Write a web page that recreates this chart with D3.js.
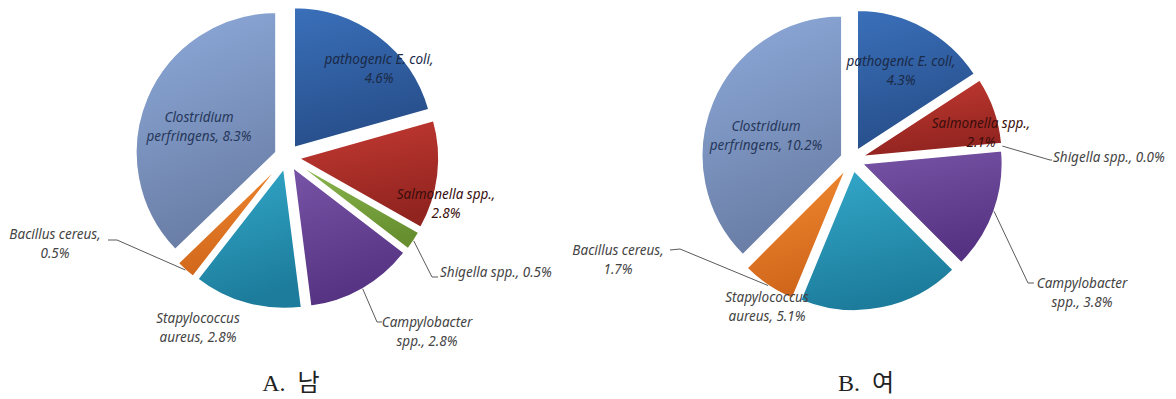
<!DOCTYPE html>
<html><head><meta charset="utf-8">
<script src="https://cdn.jsdelivr.net/npm/d3@7"></script>
<style>body{margin:0;background:#fff} svg{display:block}</style>
</head><body><svg id="chart" width="1176" height="399"></svg>
<script>
// ---- data ----
const categories = ["pathogenic E. coli", "Salmonella spp.", "Shigella spp.", "Campylobacter spp.", "Stapylococcus aureus", "Bacillus cereus", "Clostridium perfringens"];
const maleValues = [4.6, 2.8, 0.5, 2.8, 2.8, 0.5, 8.3];
const femaleValues = [4.3, 2.1, 0.0, 3.8, 5.1, 1.7, 10.2];
const panelTitles = ["A.  남", "B.  여"];
// words on the first label line (0 = single line)
const firstLineWords = [3, 2, 0, 1, 1, 2, 1];

// ---- styles ----
const colorsLight = ["#3a70ba", "#c43a32", "#8cb84e", "#7854a6", "#33a9ca", "#f48c32", "#8eabdb"];
const colorsDark  = ["#274e8a", "#922420", "#678f30", "#553282", "#1d7c9c", "#d0661a", "#6a7ea6"];
const textColors  = ["#1b2a47", "#3a0e0c", "#444", "#444", "#444", "#444", "#26375a"];

// label layout relative to pie center
const layouts = [
  { cx: 287, cy: 157, r: 140, explode: 12, values: maleValues, title: panelTitles[0], titleX: 291,
    labels: [
      {x: 92, y: -98, a: "middle"},
      {x: 159, y: 37, a: "middle"},
      {x: 153, y: 115, a: "start", elbow: [145, 120], end: [151, 120]},
      {x: 140, y: 165, a: "middle", elbow: [90, 165], end: [95, 165]},
      {x: -89, y: 161, a: "middle"},
      {x: -232, y: 77, a: "middle", elbow: [-170, 83], end: [-179, 83]},
      {x: -88, y: -40, a: "middle"}
    ]},
  { cx: 852, cy: 160, r: 140, explode: 11, values: femaleValues, title: panelTitles[1], titleX: 866,
    labels: [
      {x: 49, y: -99, a: "middle"},
      {x: 129, y: -37, a: "middle"},
      {x: 201, y: -3, a: "start", elbow: [198, 0], end: [200, 0]},
      {x: 230, y: 123, a: "middle", elbow: [176, 123], end: [182, 123]},
      {x: -85, y: 137, a: "middle"},
      {x: -234, y: 90, a: "middle", elbow: [-172, 89], end: [-182, 90]},
      {x: -86, y: -34, a: "middle"}
    ]}
];

const svg = d3.select("#chart");
const defs = svg.append("defs");
categories.forEach((c, i) => {
  const g = defs.append("linearGradient").attr("id", "grad" + i)
    .attr("x1", 0).attr("y1", 0).attr("x2", 0.25).attr("y2", 1);
  g.append("stop").attr("offset", "0%").attr("stop-color", colorsLight[i]);
  g.append("stop").attr("offset", "100%").attr("stop-color", colorsDark[i]);
});

function labelLines(i, v) {
  const words = categories[i].split(" ");
  const pct = v.toFixed(1) + "%";
  const n = firstLineWords[i];
  if (n === 0) return [categories[i] + ", " + pct];
  if (n >= words.length) return [categories[i] + ",", pct];
  return [words.slice(0, n).join(" "), words.slice(n).join(" ") + ", " + pct];
}

layouts.forEach(L => {
  const data = categories.map((c, i) => ({ i, value: L.values[i] }));
  const pie = d3.pie().sort(null).value(d => d.value);
  const arcs = pie(data);
  const arc = d3.arc().innerRadius(0).outerRadius(L.r);
  const g = svg.append("g").attr("transform", `translate(${L.cx},${L.cy})`);

  // slices
  g.selectAll("path.slice").data(arcs.filter(a => a.value > 0)).join("path")
    .attr("class", "slice")
    .attr("d", arc)
    .attr("transform", a => {
      const m = (a.startAngle + a.endAngle) / 2;
      return `translate(${Math.sin(m) * L.explode},${-Math.cos(m) * L.explode})`;
    })
    .attr("fill", a => `url(#grad${a.data.i})`)
    .attr("stroke", "#fff").attr("stroke-width", 1.5);

  // leader lines
  arcs.forEach(a => {
    const lab = L.labels[a.data.i];
    if (!lab.elbow) return;
    const m = (a.startAngle + a.endAngle) / 2;
    const R = L.r + L.explode;
    const p0 = [Math.sin(m) * R, -Math.cos(m) * R];
    g.append("path")
      .attr("d", d3.line()([p0, lab.elbow, lab.end]))
      .attr("fill", "none").attr("stroke", "#5a5a5a").attr("stroke-width", 1);
  });

  // labels
  arcs.forEach(a => {
    const i = a.data.i, lab = L.labels[i];
    const t = g.append("text")
      .attr("x", lab.x).attr("y", lab.y)
      .attr("text-anchor", lab.a)
      .attr("font-family", "'Noto Sans', 'DejaVu Sans', sans-serif")
      .attr("font-style", "italic")
      .attr("font-size", 13.5)
      .attr("fill", textColors[i]);
    labelLines(i, a.value).forEach((s, k) => {
      t.append("tspan").attr("x", lab.x).attr("dy", k === 0 ? "0.35em" : 19).text(s);
    });
  });

  // title
  svg.append("text")
    .attr("x", L.titleX).attr("y", 391)
    .attr("text-anchor", "middle")
    .attr("font-family", "'Liberation Serif', 'DejaVu Serif', 'Noto Sans CJK KR', serif")
    .attr("font-size", 24)
    .attr("fill", "#222")
    .style("white-space", "pre")
    .text(L.title);
});
</script>
</body></html>
